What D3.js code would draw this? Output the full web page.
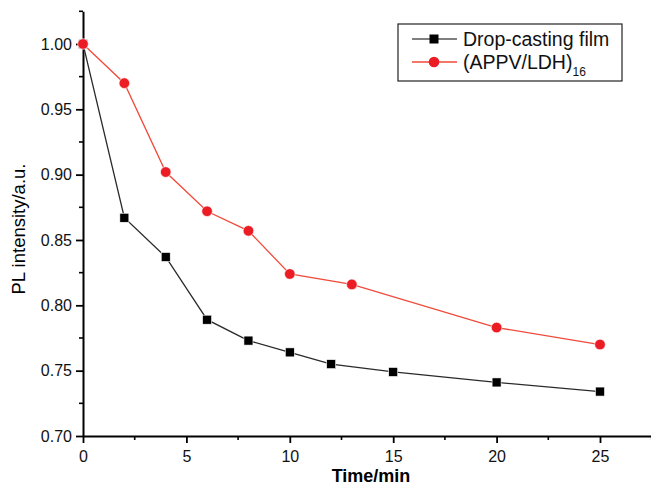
<!DOCTYPE html>
<html><head><meta charset="utf-8">
<script src="https://cdn.jsdelivr.net/npm/d3@7"></script>
<style>body{margin:0;background:#fff}svg{display:block}text{font-family:"Liberation Sans",Arial,sans-serif}</style>
</head><body>
<svg id="c" width="651" height="486"></svg>
<script>
const dropTime = [0, 2, 4, 6, 8, 10, 12, 15, 20, 25];
const dropValues = [1.000, 0.867, 0.837, 0.789, 0.773, 0.764, 0.755, 0.749, 0.741, 0.734];
const appvTime = [0, 2, 4, 6, 8, 10, 13, 20, 25];
const appvValues = [1.000, 0.970, 0.902, 0.872, 0.857, 0.824, 0.816, 0.783, 0.770];
const xTicks = [0, 5, 10, 15, 20, 25];
const yTicks = [0.70, 0.75, 0.80, 0.85, 0.90, 0.95, 1.00];
const seriesNames = ["Drop-casting film", "(APPV/LDH)"];
const xLabel = "Time/min", yLabel = "PL intensity/a.u.";

const svg = d3.select("#c");
const x = d3.scaleLinear().domain([0, 27.5]).range([83, 651.7]);
const y = d3.scaleLinear().domain([0.70, 1.025]).range([436, 11.3]);

const xMinor = d3.range(0, 27.6, 2.5).filter(v => !xTicks.includes(v));
const yMinor = d3.range(0.725, 1.03, 0.05);

const gx = svg.append("g").attr("transform", "translate(0,436)");
gx.call(d3.axisBottom(x).tickValues(xTicks).tickFormat(d3.format("d")).tickSize(7).tickSizeOuter(0));
gx.append("g").selectAll("line").data(xMinor).join("line")
  .attr("x1", d => x(d)).attr("x2", d => x(d)).attr("y1", 0).attr("y2", 4).attr("stroke", "#000").attr("stroke-width", 1.6);
const gy = svg.append("g").attr("transform", "translate(83,0)");
gy.call(d3.axisLeft(y).tickValues(yTicks).tickFormat(d3.format(".2f")).tickSize(7).tickSizeOuter(0));
gy.append("g").selectAll("line").data(yMinor).join("line")
  .attr("y1", d => y(d)).attr("y2", d => y(d)).attr("x1", 0).attr("x2", -4).attr("stroke", "#000").attr("stroke-width", 1.6);
[gx, gy].forEach(g => {
  g.select(".domain").attr("stroke-width", 2);
  g.selectAll(".tick line").attr("stroke-width", 1.8);
  g.selectAll(".tick text").attr("font-size", 16).attr("fill", "#111").style("font-family", "Liberation Sans, Arial, sans-serif");
});
gx.selectAll(".tick text").attr("dy", "1.0em");
gy.selectAll(".tick text").attr("x", -11);

svg.append("text").attr("x", 371).attr("y", 482).attr("text-anchor", "middle")
  .attr("font-size", 18).attr("font-weight", "bold").text(xLabel);
svg.append("text").attr("transform", "translate(25,229) rotate(-90)").attr("text-anchor", "middle")
  .attr("font-size", 18.5).text(yLabel);

const line = d3.line().x(d => x(d[0])).y(d => y(d[1]));
const dropData = dropTime.map((t, i) => [t, dropValues[i]]);
const appvData = appvTime.map((t, i) => [t, appvValues[i]]);

svg.append("path").datum(dropData).attr("d", line).attr("fill", "none").attr("stroke", "#2a2a2a").attr("stroke-width", 1.3);
svg.append("path").datum(appvData).attr("d", line).attr("fill", "none").attr("stroke", "#f04a3a").attr("stroke-width", 1.3);

svg.append("g").selectAll("rect").data(dropData).join("rect")
  .attr("x", d => x(d[0]) - 4.5).attr("y", d => y(d[1]) - 4.5).attr("width", 9).attr("height", 9)
  .attr("fill", "#000").attr("stroke", "#fff").attr("stroke-width", 0.6);
svg.append("g").selectAll("circle").data(appvData).join("circle")
  .attr("cx", d => x(d[0])).attr("cy", d => y(d[1])).attr("r", 5.3)
  .attr("fill", "#ec1c24").attr("stroke", "#fff").attr("stroke-width", 0.6);

const lg = svg.append("g");
lg.append("rect").attr("x", 398).attr("y", 24).attr("width", 224).attr("height", 57)
  .attr("fill", "#fff").attr("stroke", "#222").attr("stroke-width", 1.2);
lg.append("line").attr("x1", 412).attr("x2", 457).attr("y1", 39).attr("y2", 39).attr("stroke", "#555").attr("stroke-width", 1.4);
lg.append("rect").attr("x", 434 - 4.5).attr("y", 39 - 4.5).attr("width", 9).attr("height", 9).attr("fill", "#000");
lg.append("line").attr("x1", 412).attr("x2", 457).attr("y1", 62).attr("y2", 62).attr("stroke", "#f04a3a").attr("stroke-width", 1.4);
lg.append("circle").attr("cx", 434).attr("cy", 62).attr("r", 5.3).attr("fill", "#ec1c24");
lg.append("text").attr("x", 463).attr("y", 45.5).attr("font-size", 19.5).attr("fill", "#111").text(seriesNames[0]);
const t2 = lg.append("text").attr("x", 463).attr("y", 69).attr("font-size", 19.5).attr("fill", "#111").text(seriesNames[1]);
t2.append("tspan").attr("font-size", 12).attr("dy", 7).text("16");
</script>
</body></html>
